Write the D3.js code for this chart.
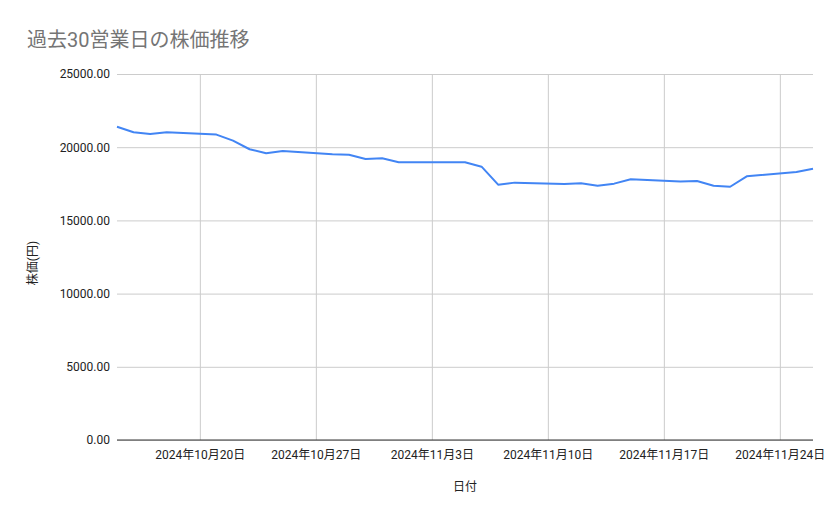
<!DOCTYPE html>
<html>
<head>
<meta charset="utf-8">
<script src="https://cdn.jsdelivr.net/npm/d3@7"></script>
<style>
  body { margin: 0; background: #fff; }
  text { font-family: Roboto, "Noto Sans CJK JP", sans-serif; }
</style>
</head>
<body>
<svg id="graf" width="839" height="519"></svg>
<script>
// 営業日と終値(目視で読み取り)
const fechas = [
  "2024-10-15", "2024-10-16", "2024-10-17", "2024-10-18",
  "2024-10-21", "2024-10-22", "2024-10-23", "2024-10-24", "2024-10-25",
  "2024-10-28", "2024-10-29", "2024-10-30", "2024-10-31", "2024-11-01",
  "2024-11-05", "2024-11-06", "2024-11-07", "2024-11-08",
  "2024-11-11", "2024-11-12", "2024-11-13", "2024-11-14", "2024-11-15",
  "2024-11-18", "2024-11-19", "2024-11-20", "2024-11-21", "2024-11-22",
  "2024-11-25", "2024-11-26"
];
const precios = [
  21400, 21020, 20900, 21020,
  20860, 20450, 19860, 19590, 19740,
  19520, 19490, 19200, 19240, 18970,
  18970, 18670, 17440, 17580,
  17490, 17540, 17370, 17510, 17810,
  17650, 17690, 17370, 17300, 18010,
  18310, 18530
];
const yTicks = [0, 5000, 10000, 15000, 20000, 25000];
const xTicks = ["2024-10-20", "2024-10-27", "2024-11-03", "2024-11-10", "2024-11-17", "2024-11-24"];
const xDominio = ["2024-10-15", "2024-11-26"];

const parse = d3.timeParse("%Y-%m-%d");
const data = fechas.map((f, i) => ({ fecha: parse(f), precio: precios[i] }));

const svg = d3.select("#graf");
const mIzq = 117, mDer = 813, mSup = 74, mInf = 440;

const x = d3.scaleTime().domain(xDominio.map(parse)).range([mIzq, mDer]);
const y = d3.scaleLinear().domain([0, 25000]).range([mInf, mSup]);

// título
svg.append("text")
  .attr("x", 27).attr("y", 47)
  .attr("font-size", 20)
  .attr("fill", "#757575")
  .text("過去30営業日の株価推移");

// grilla horizontal + etiquetas Y
const gy = svg.append("g").attr("transform", `translate(${mIzq},0)`)
  .call(d3.axisLeft(y).tickValues(yTicks).tickFormat(d3.format(".2f"))
    .tickSize(-(mDer - mIzq)).tickPadding(7));
gy.select(".domain").remove();
gy.selectAll("line").attr("stroke", "#cccccc");
gy.selectAll("text").attr("font-size", 12).attr("fill", "#222").attr("font-family", "Roboto, sans-serif");

// grilla vertical + etiquetas X
const fmt = d => `${d.getFullYear()}年${d.getMonth() + 1}月${d.getDate()}日`;
const gx = svg.append("g").attr("transform", `translate(0,${mInf})`)
  .call(d3.axisBottom(x).tickValues(xTicks.map(parse)).tickFormat(fmt)
    .tickSize(-(mInf - mSup)).tickPadding(10));
gx.select(".domain").remove();
gx.selectAll("line").attr("stroke", "#cccccc");
gx.selectAll("text").attr("font-size", 12).attr("fill", "#222");

// eje base
svg.append("line")
  .attr("x1", mIzq).attr("x2", mDer)
  .attr("y1", y(0)).attr("y2", y(0))
  .attr("stroke", "#333").attr("stroke-width", 1);

// línea de precios
const line = d3.line()
  .x(d => x(d.fecha))
  .y(d => y(d.precio));

svg.append("path")
  .datum(data)
  .attr("fill", "none")
  .attr("stroke", "#4285f4")
  .attr("stroke-width", 2)
  .attr("stroke-linejoin", "round")
  .attr("d", line);

// títulos de ejes
svg.append("text")
  .attr("x", (mIzq + mDer) / 2).attr("y", 491)
  .attr("text-anchor", "middle")
  .attr("font-size", 12).attr("fill", "#222")
  .text("日付");

svg.append("text")
  .attr("transform", `translate(37,${(mSup + mInf) / 2 + 6}) rotate(-90)`)
  .attr("text-anchor", "middle")
  .attr("font-size", 12).attr("fill", "#222")
  .text("株価(円)");
</script>
</body>
</html>
